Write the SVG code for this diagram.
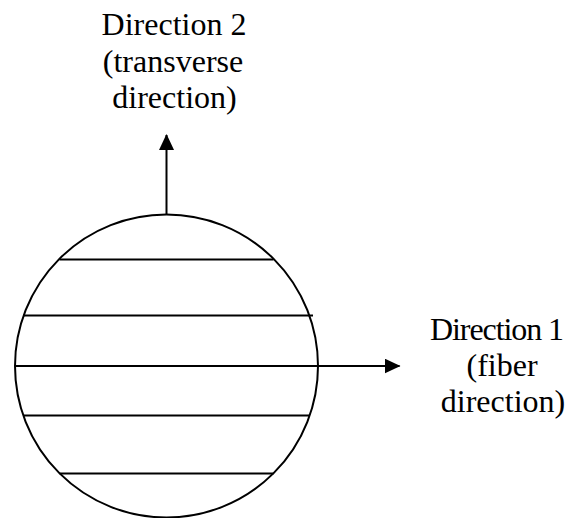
<svg xmlns="http://www.w3.org/2000/svg" width="575" height="518" viewBox="0 0 575 518">
<defs>
<style>
.ln{stroke:#000;stroke-width:2;fill:none}
.lbl{font-family:"Liberation Serif","Times New Roman",serif;font-size:32px;fill:#000;text-anchor:middle}
</style>
<marker id="ah" viewBox="0 0 16 15" refX="15" refY="7.5" markerWidth="16" markerHeight="15" markerUnits="userSpaceOnUse" orient="auto">
<path d="M0,0 L16,7.5 L0,15 Z" fill="#000"/>
</marker>
</defs>
<rect width="575" height="518" fill="#fff"/>
<g id="fiber-section">
<circle class="ln" cx="166.5" cy="366" r="151.5"/>
<line class="ln" x1="59.5" y1="259.5" x2="273.5" y2="259.5"/>
<line class="ln" x1="23.5" y1="315.5" x2="313" y2="315.5"/>
<line class="ln" x1="15" y1="366" x2="318" y2="366"/>
<line class="ln" x1="23.5" y1="415.5" x2="310" y2="415.5"/>
<line class="ln" x1="59.5" y1="473.5" x2="273.5" y2="473.5"/>
</g>
<g id="connectors">
<line class="ln" x1="166.5" y1="215" x2="166.5" y2="135" marker-end="url(#ah)"/>
<line class="ln" x1="318" y1="366" x2="399.5" y2="366" marker-end="url(#ah)"/>
</g>
<g id="direction2">
<text class="lbl" x="174" y="35">Direction 2</text>
<text class="lbl" x="173" y="72">(transverse</text>
<text class="lbl" x="174.5" y="108">direction)</text>
</g>
<g id="direction1">
<text class="lbl" x="497" y="340" textLength="134" lengthAdjust="spacing">Direction 1</text>
<text class="lbl" x="502" y="376">(fiber</text>
<text class="lbl" x="503" y="412">direction)</text>
</g>
</svg>
